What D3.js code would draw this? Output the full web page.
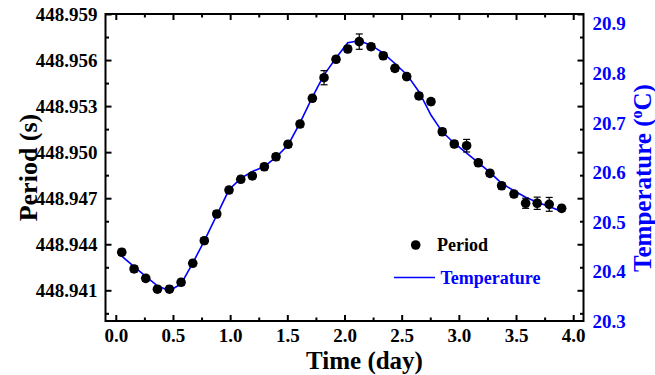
<!DOCTYPE html>
<html>
<head>
<meta charset="utf-8">
<script src="https://cdn.jsdelivr.net/npm/d3@7"></script>
<style>
  html, body { margin: 0; padding: 0; background: #fff; }
  svg { display: block; }
  text { font-family: "Liberation Serif", "Times New Roman", serif; font-weight: bold; }
</style>
</head>
<body>
<svg id="chart" width="655" height="375"></svg>
<script>
// Measurement times (day)
const timeDays = [0.052, 0.160, 0.262, 0.364, 0.469, 0.571, 0.673, 0.774, 0.883, 0.990,
  1.093, 1.194, 1.299, 1.401, 1.506, 1.611, 1.719, 1.821, 1.926, 2.028,
  2.129, 2.232, 2.339, 2.441, 2.544, 2.651, 2.756, 2.855, 2.960, 3.068,
  3.170, 3.272, 3.374, 3.482, 3.584, 3.685, 3.790, 3.899];

// Pendulum period (s)
const periodValues = [448.94348, 448.94239, 448.94178, 448.94107, 448.94107, 448.94152, 448.94276, 448.94423, 448.94597, 448.94753,
  448.94823, 448.94845, 448.94905, 448.94970, 448.95051, 448.95183, 448.95351, 448.95485, 448.95605, 448.95672,
  448.95720, 448.95687, 448.95628, 448.95546, 448.95492, 448.95366, 448.95329, 448.95133, 448.95053, 448.95042,
  448.94931, 448.94862, 448.94781, 448.94727, 448.94667, 448.94667, 448.94660, 448.94634];

// Period uncertainty (s)
const periodErrors = [0.0002, 0.0002, 0.0002, 0.0002, 0.0002, 0.0002, 0.0002, 0.0002, 0.0002, 0.0002,
  0.0002, 0.0002, 0.0002, 0.0002, 0.0002, 0.0002, 0.0002, 0.00046, 0.0002, 0.0002,
  0.0005, 0.0002, 0.0002, 0.0002, 0.0002, 0.0002, 0.0002, 0.0002, 0.0002, 0.00041,
  0.0002, 0.0002, 0.0002, 0.0002, 0.00033, 0.0004, 0.00045, 0.0002];

// Temperature (°C)
const temperatureValues = [20.431, 20.410, 20.390, 20.371, 20.361, 20.375, 20.417, 20.462, 20.514, 20.565,
  20.588, 20.602, 20.612, 20.631, 20.655, 20.700, 20.752, 20.797, 20.831, 20.862,
  20.866, 20.857, 20.841, 20.820, 20.798, 20.763, 20.716, 20.682, 20.659, 20.639,
  20.620, 20.600, 20.578, 20.563, 20.550, 20.540, 20.531, 20.521];

// Axis ticks
const xMajorTicks = [0, 0.5, 1.0, 1.5, 2.0, 2.5, 3.0, 3.5, 4.0];
const xMinorTicks = [0.25, 0.75, 1.25, 1.75, 2.25, 2.75, 3.25, 3.75];
const periodMajorTicks = [448.941, 448.944, 448.947, 448.950, 448.953, 448.956, 448.959];
const periodMinorTicks = [448.9395, 448.9425, 448.9455, 448.9485, 448.9515, 448.9545, 448.9575];
const temperatureTicks = [20.3, 20.4, 20.5, 20.6, 20.7, 20.8, 20.9];

const blue = "#0000ff";
const frame = { left: 105.5, right: 583.5, top: 14, bottom: 321 };

const svg = d3.select("#chart");

const x = d3.scaleLinear().domain([-0.09, 4.09]).range([frame.left, frame.right]);
const yP = d3.scaleLinear().domain([448.939, 448.959]).range([frame.bottom, frame.top]);
const yT = d3.scaleLinear().domain([20.3, 20.92]).range([frame.bottom, frame.top]);

const majorLen = 6, minorLen = 3.5;

const gAxes = svg.append("g");

// Bottom axis (labels + inward ticks)
const axBottom = gAxes.append("g").attr("transform", `translate(0,${frame.bottom})`);
axBottom.call(d3.axisTop(x).tickValues(xMajorTicks).tickSize(majorLen).tickFormat(""));
axBottom.append("g").call(d3.axisTop(x).tickValues(xMinorTicks).tickSize(minorLen).tickFormat(""));
axBottom.append("g").call(d3.axisBottom(x).tickValues(xMajorTicks).tickSize(0).tickPadding(8).tickFormat(d3.format(".1f")));

// Top axis (mirrored ticks)
const axTop = gAxes.append("g").attr("transform", `translate(0,${frame.top})`);
axTop.call(d3.axisBottom(x).tickValues(xMajorTicks).tickSize(majorLen).tickFormat(""));
axTop.append("g").call(d3.axisBottom(x).tickValues(xMinorTicks).tickSize(minorLen).tickFormat(""));

// Left axis (period)
const axLeft = gAxes.append("g").attr("transform", `translate(${frame.left},0)`);
axLeft.call(d3.axisRight(yP).tickValues(periodMajorTicks).tickSize(majorLen).tickFormat(""));
axLeft.append("g").call(d3.axisRight(yP).tickValues(periodMinorTicks).tickSize(minorLen).tickFormat(""));
axLeft.append("g").call(d3.axisLeft(yP).tickValues(periodMajorTicks).tickSize(0).tickPadding(8).tickFormat(d3.format(".3f")));

// Right axis: mirrored period ticks, temperature labels
const axRight = gAxes.append("g").attr("transform", `translate(${frame.right},0)`);
axRight.call(d3.axisLeft(yP).tickValues(periodMajorTicks).tickSize(majorLen).tickFormat(""));
axRight.append("g").call(d3.axisLeft(yP).tickValues(periodMinorTicks).tickSize(minorLen).tickFormat(""));
const rightLabels = axRight.append("g")
  .call(d3.axisRight(yT).tickValues(temperatureTicks).tickSize(0).tickPadding(9).tickFormat(d3.format(".1f")));

gAxes.selectAll(".domain").remove();
gAxes.selectAll(".tick line").attr("stroke", "#000").attr("stroke-width", 2);
gAxes.selectAll(".tick text")
  .attr("font-size", 19)
  .attr("font-family", '"Liberation Serif", "Times New Roman", serif')
  .attr("font-weight", "bold")
  .attr("fill", "#000");
rightLabels.selectAll("text").attr("fill", blue);

// Frame
svg.append("rect")
  .attr("x", frame.left).attr("y", frame.top)
  .attr("width", frame.right - frame.left).attr("height", frame.bottom - frame.top)
  .attr("fill", "none").attr("stroke", "#000").attr("stroke-width", 2);

// Temperature line
const tempData = timeDays.map((t, i) => ({ t, v: temperatureValues[i] }));
svg.append("path")
  .datum(tempData)
  .attr("fill", "none")
  .attr("stroke", blue)
  .attr("stroke-width", 1.6)
  .attr("d", d3.line().x(d => x(d.t)).y(d => yT(d.v)));

// Period points with error bars
const periodData = timeDays.map((t, i) => ({ t, v: periodValues[i], e: periodErrors[i] }));
const err = svg.append("g").attr("stroke", "#000").attr("stroke-width", 1.2);
const capW = 3.5;
periodData.forEach(d => {
  const cx = x(d.t), y1 = yP(d.v + d.e), y2 = yP(d.v - d.e);
  err.append("line").attr("x1", cx).attr("x2", cx).attr("y1", y1).attr("y2", y2);
  err.append("line").attr("x1", cx - capW).attr("x2", cx + capW).attr("y1", y1).attr("y2", y1);
  err.append("line").attr("x1", cx - capW).attr("x2", cx + capW).attr("y1", y2).attr("y2", y2);
});
svg.append("g").selectAll("circle")
  .data(periodData)
  .join("circle")
  .attr("cx", d => x(d.t))
  .attr("cy", d => yP(d.v))
  .attr("r", 4.8)
  .attr("fill", "#000");

// Legend
const legend = svg.append("g");
legend.append("circle").attr("cx", 415.7).attr("cy", 245).attr("r", 4.8).attr("fill", "#000");
legend.append("text").attr("x", 437).attr("y", 251).attr("font-size", 18).attr("fill", "#000").text("Period");
legend.append("line").attr("x1", 394).attr("x2", 435).attr("y1", 277.5).attr("y2", 277.5)
  .attr("stroke", blue).attr("stroke-width", 1.6);
legend.append("text").attr("x", 440.5).attr("y", 284).attr("font-size", 18).attr("fill", blue).text("Temperature");

// Axis titles
svg.append("text")
  .attr("x", (frame.left + frame.right) / 2 + 20)
  .attr("y", 369)
  .attr("text-anchor", "middle")
  .attr("font-size", 25)
  .attr("fill", "#000")
  .text("Time (day)");

svg.append("text")
  .attr("transform", `translate(37,${(frame.top + frame.bottom) / 2}) rotate(-90)`)
  .attr("text-anchor", "middle")
  .attr("font-size", 26)
  .attr("fill", "#000")
  .text("Period (s)");

const tTitle = svg.append("text")
  .attr("transform", `translate(650.5,178) rotate(-90)`)
  .attr("text-anchor", "middle")
  .attr("font-size", 25)
  .attr("fill", blue);
tTitle.append("tspan").text("Temperature (");
tTitle.append("tspan").attr("font-size", 16).attr("dy", -9).text("o");
tTitle.append("tspan").attr("dy", 9).text("C)");
</script>
</body>
</html>
